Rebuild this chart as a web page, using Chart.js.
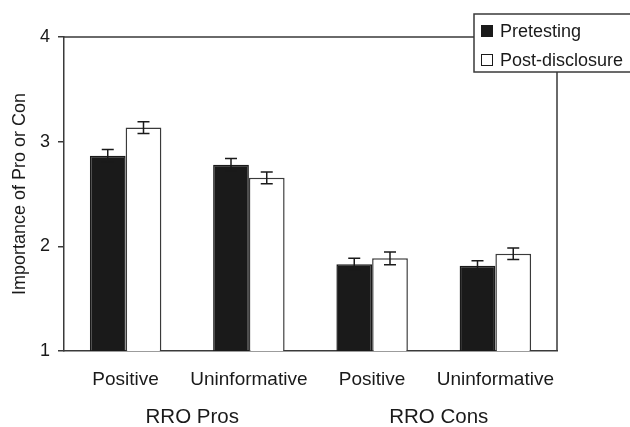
<!DOCTYPE html>
<html lang="en">
<head>
    <meta charset="UTF-8">
    <title>Importance of Pro or Con</title>
    <script src="https://cdn.jsdelivr.net/npm/chart.js"></script>
    <style>
        body { margin: 0; background: #fff; }
    </style>
</head>
<body>
    <canvas id="myChart" width="630" height="427"></canvas>

    <script>
        const categories = ['Positive', 'Uninformative', 'Positive', 'Uninformative'];
        const groups = ['RRO Pros', 'RRO Cons'];
        const seriesNames = ['Pretesting', 'Post-disclosure'];
        const pretesting = [2.865, 2.78, 1.83, 1.815];
        const pretestingErr = [0.06, 0.06, 0.057, 0.048];
        const postDisclosure = [3.135, 2.655, 1.885, 1.93];
        const postDisclosureErr = [0.056, 0.056, 0.06, 0.055];
        const yTicks = [1, 2, 3, 4];

        const ink = '#1a1a1a';
        const line = '#3a3a3a';
        const fontFamily = '"Liberation Sans", Arial, Helvetica, sans-serif';

        Chart.defaults.font.family = fontFamily;
        Chart.defaults.font.size = 18;
        Chart.defaults.color = ink;

        // error bars, frame, legend box and group labels
        const extras = {
            id: 'extras',
            beforeDatasetsDraw(chart) {
                const { ctx, chartArea: a } = chart;
                ctx.save();
                ctx.strokeStyle = line;
                ctx.lineWidth = 1.5;
                ctx.beginPath();
                ctx.moveTo(a.left, a.top);
                ctx.lineTo(a.right, a.top);
                ctx.lineTo(a.right, a.bottom);
                ctx.stroke();
                ctx.restore();
            },
            afterDatasetsDraw(chart) {
                const { ctx } = chart;
                const y = chart.scales.y;
                ctx.save();
                ctx.strokeStyle = ink;
                ctx.lineWidth = 1.5;
                chart.data.datasets.forEach((ds, i) => {
                    const meta = chart.getDatasetMeta(i);
                    meta.data.forEach((bar, j) => {
                        const v = ds.data[j], e = ds.err[j];
                        const y1 = y.getPixelForValue(v + e);
                        const y2 = y.getPixelForValue(v - e);
                        ctx.beginPath();
                        ctx.moveTo(bar.x, y1); ctx.lineTo(bar.x, y2);
                        ctx.moveTo(bar.x - 6, y1); ctx.lineTo(bar.x + 6, y1);
                        ctx.moveTo(bar.x - 6, y2); ctx.lineTo(bar.x + 6, y2);
                        ctx.stroke();
                    });
                });
                ctx.restore();
            },
            afterDraw(chart) {
                const { ctx } = chart;
                const x = chart.scales.x;
                ctx.save();
                // group labels under each pair of categories
                ctx.fillStyle = ink;
                ctx.font = '20.5px ' + fontFamily;
                ctx.textAlign = 'center';
                ctx.textBaseline = 'middle';
                groups.forEach((g, i) => {
                    const cx = (x.getPixelForValue(i * 2) + x.getPixelForValue(i * 2 + 1)) / 2;
                    ctx.fillText(g, cx + 5, 417);
                });
                // legend box
                const lx = 474, ly = 14, lw = 170, lh = 58;
                ctx.fillStyle = '#fff';
                ctx.fillRect(lx, ly, lw, lh);
                ctx.strokeStyle = line;
                ctx.lineWidth = 1.5;
                ctx.strokeRect(lx, ly, lw, lh);
                ctx.font = '18px ' + fontFamily;
                ctx.textAlign = 'left';
                chart.data.datasets.forEach((ds, i) => {
                    const cy = 31 + i * 29;
                    ctx.fillStyle = ds.backgroundColor;
                    ctx.fillRect(481, cy - 6, 12, 12);
                    ctx.strokeStyle = ink;
                    ctx.lineWidth = 1;
                    ctx.strokeRect(481.5, cy - 5.5, 11, 11);
                    ctx.fillStyle = ink;
                    ctx.fillText(ds.label, 500, cy + 1);
                });
                ctx.restore();
            }
        };

        const ctx = document.getElementById('myChart').getContext('2d');
        const chart = new Chart(ctx, {
            type: 'bar',
            data: {
                labels: categories,
                datasets: [
                    {
                        label: seriesNames[0],
                        data: pretesting,
                        err: pretestingErr,
                        backgroundColor: ink,
                        borderColor: ink,
                        borderWidth: 1.5
                    },
                    {
                        label: seriesNames[1],
                        data: postDisclosure,
                        err: postDisclosureErr,
                        backgroundColor: '#ffffff',
                        borderColor: line,
                        borderWidth: 1.5
                    }
                ]
            },
            options: {
                responsive: false,
                animation: false,
                layout: { padding: { top: 37, right: 73, bottom: 0, left: 0 } },
                datasets: { bar: { barPercentage: 1, categoryPercentage: 0.58 } },
                plugins: {
                    legend: { display: false },
                    tooltip: { enabled: false }
                },
                scales: {
                    x: {
                        grid: { display: false, drawTicks: false },
                        border: { display: true, color: line, width: 1.5 },
                        ticks: { padding: 17, maxRotation: 0, color: ink, font: { size: 19 } },
                        afterFit(scale) { scale.height = 76; }
                    },
                    y: {
                        min: 1,
                        max: 4,
                        afterBuildTicks(scale) { scale.ticks = yTicks.map(v => ({ value: v })); },
                        grid: { drawOnChartArea: false, drawTicks: true, tickLength: 6, color: line, lineWidth: 1.5 },
                        border: { display: true, color: line, width: 1.5 },
                        ticks: { padding: 8, color: ink },
                        title: {
                            display: true,
                            text: 'Importance of Pro or Con',
                            color: ink,
                            padding: { top: 9, bottom: 0 }
                        },
                        afterFit(scale) { scale.width = 64; }
                    }
                }
            },
            plugins: [extras]
        });
    </script>
</body>
</html>
